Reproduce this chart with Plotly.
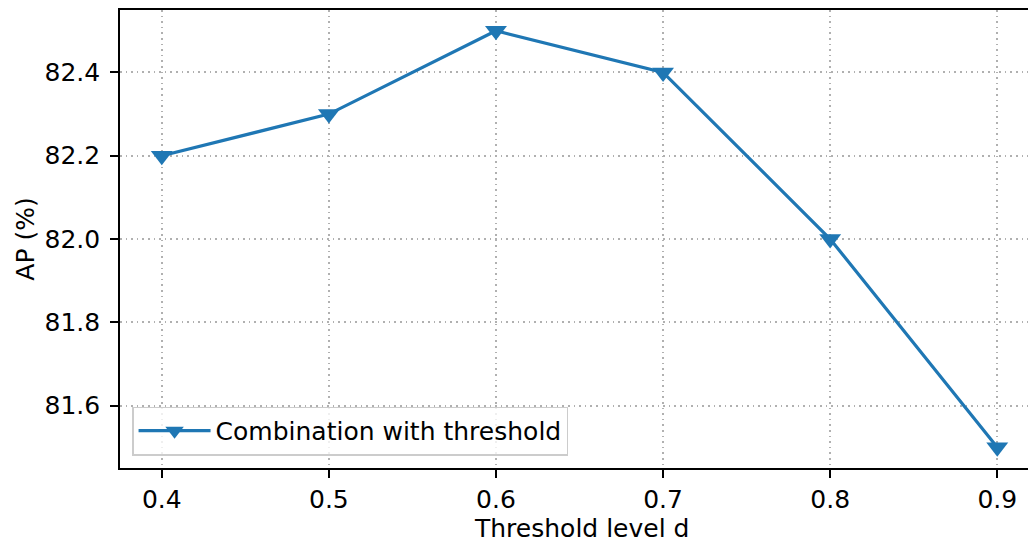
import plotly.graph_objects as go

thresholds = [0.4, 0.5, 0.6, 0.7, 0.8, 0.9]
ap_values = [82.2, 82.3, 82.5, 82.4, 82.0, 81.5]
series_name = "Combination with threshold"
x_ticks = [0.4, 0.5, 0.6, 0.7, 0.8, 0.9]
y_ticks = [81.6, 81.8, 82.0, 82.2, 82.4]
x_label = "Threshold level d"
y_label = "AP (%)"

FONT = "DejaVu Sans"
FS = 25

fig = go.Figure()
fig.add_trace(go.Scatter(
    x=thresholds, y=ap_values, mode="lines+markers", name=series_name,
    line=dict(color="#1f77b4", width=3.2),
    marker=dict(symbol="triangle-down", size=19, color="#1f77b4", line=dict(width=0)),
))

axis_common = dict(
    showline=True, linecolor="black", linewidth=1.6,
    ticks="outside", ticklen=8, tickwidth=1.6, tickcolor="black",
    showgrid=True, gridcolor="#b0b0b0", griddash="1.6px,4px", gridwidth=1.6,
    zeroline=False, tickfont=dict(family=FONT, size=FS, color="black"),
    automargin=False,
)

fig.update_layout(
    width=1028, height=543,
    margin=dict(l=120, r=0, t=9.5, b=74.7),
    paper_bgcolor="white", plot_bgcolor="white",
    font=dict(family=FONT, size=FS, color="black"),
    showlegend=True,
    legend=dict(
        x=0.0135, y=0.027, xanchor="left", yanchor="bottom",
        bgcolor="rgba(255,255,255,0.8)", bordercolor="#cccccc", borderwidth=1.3,
        font=dict(family=FONT, size=FS, color="black"),
        itemwidth=72,
    ),
    xaxis=dict(
        range=[0.375, 0.9184], tickvals=x_ticks, ticktext=[f"{v:.1f}" for v in x_ticks],
        mirror=True,
        **axis_common,
    ),
    yaxis=dict(
        range=[81.45, 82.55], tickvals=y_ticks, ticktext=[f"{v:.1f}" for v in y_ticks],
        mirror=False, ticklabelstandoff=5,
        title=dict(text=y_label, font=dict(family=FONT, size=FS), standoff=3),
        **axis_common,
    ),
    annotations=[dict(
        text=x_label, xref="paper", yref="paper", x=(581 - 120) / 908, y=-0.133,
        xanchor="center", yanchor="middle", showarrow=False,
        font=dict(family=FONT, size=FS, color="black"),
    )],
)

fig.write_html(
    "out.html",
    config={"displayModeBar": False},
    post_script="document.body.style.margin='0';document.body.style.overflow='hidden';",
)
